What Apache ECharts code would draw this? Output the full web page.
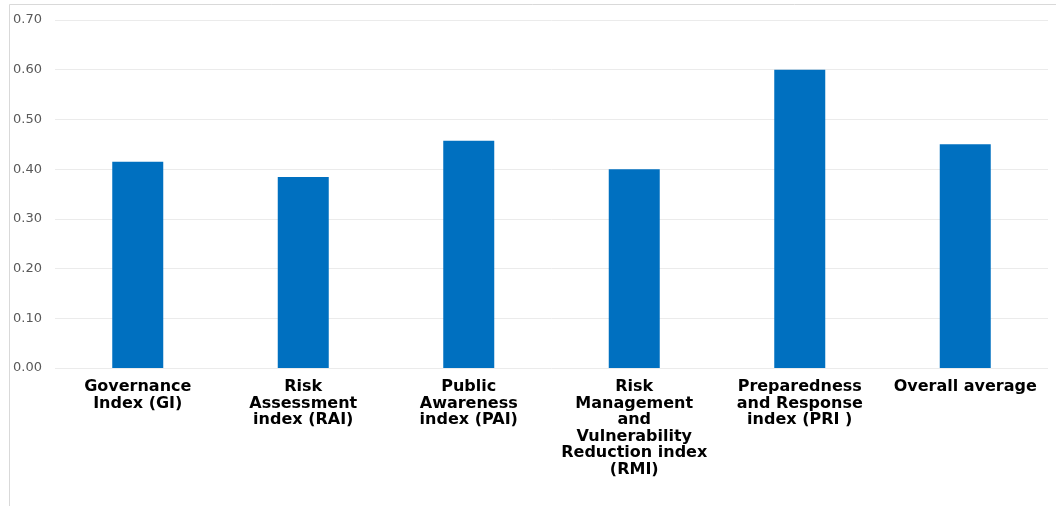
<!DOCTYPE html>
<html>
<head>
<meta charset="utf-8">
<script src="https://cdn.jsdelivr.net/npm/echarts@6/dist/echarts.min.js"></script>
<style>
  html, body { margin: 0; padding: 0; background: #fff; }
  #chart { width: 1056px; height: 506px; }
</style>
</head>
<body>
<div id="chart"></div>
<script>
// Index categories (wrapped as they appear under the axis)
const categories = [
  'Governance\nIndex (GI)',
  'Risk\nAssessment\nindex (RAI)',
  'Public\nAwareness\nindex (PAI)',
  'Risk\nManagement\nand\nVulnerability\nReduction index\n(RMI)',
  'Preparedness\nand Response\nindex (PRI )',
  'Overall average'
];

// Index scores
const scores = [0.415, 0.384, 0.457, 0.400, 0.600, 0.450];

// Value axis range
const yMin = 0;
const yMax = 0.7;
const yStep = 0.1;

const chart = echarts.init(document.getElementById('chart'));

chart.setOption({
  animation: false,
  backgroundColor: '#ffffff',
  grid: { left: 55, right: 8, top: 20, bottom: 138, containLabel: false },
  graphic: [
    {
      type: 'polyline',
      shape: { points: [[9.5, 506], [9.5, 4.5], [1056, 4.5]] },
      style: { stroke: '#d9d9d9', lineWidth: 1, fill: null },
      silent: true
    }
  ],
  xAxis: {
    type: 'category',
    data: categories,
    axisLine: { show: false },
    axisTick: { show: false },
    axisLabel: {
      interval: 0,
      margin: 11,
      color: '#000000',
      fontFamily: 'DejaVu Sans, sans-serif',
      fontWeight: 'bold',
      fontSize: 16,
      lineHeight: 16.5,
      align: 'center'
    }
  },
  yAxis: {
    type: 'value',
    min: yMin,
    max: yMax,
    interval: yStep,
    axisLine: { show: false },
    axisTick: { show: false },
    splitLine: { lineStyle: { color: '#ebebeb', width: 1 } },
    axisLabel: {
      margin: 13,
      color: '#595959',
      fontFamily: 'DejaVu Sans, sans-serif',
      fontSize: 13,
      formatter: v => v.toFixed(2)
    }
  },
  series: [
    {
      type: 'bar',
      data: scores,
      barWidth: 51,
      itemStyle: { color: '#0070c0' }
    }
  ]
});
</script>
</body>
</html>
